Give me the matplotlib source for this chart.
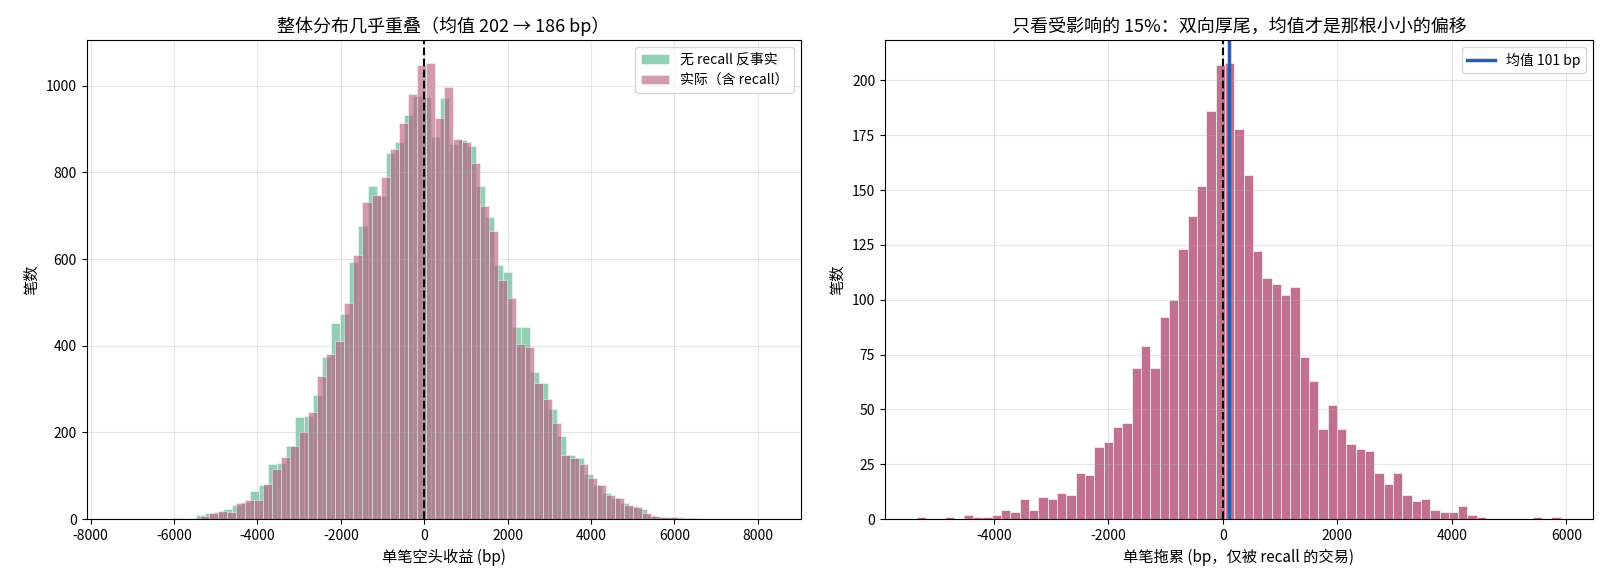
import numpy as np
import matplotlib
matplotlib.use("Agg")
import matplotlib.pyplot as plt

plt.rcParams['font.family'] = ['Noto Sans CJK SC', 'DejaVu Sans']
plt.rcParams['axes.unicode_minus'] = False

# ---- left panel data ----
left_m_start, left_g_start, left_width, left_nbins = -7317, -7413, 216.2, 72
actual_counts = [1, 0, 0, 0, 0, 0, 2, 0, 1, 8, 13, 19, 16, 38, 45, 45, 82, 115, 144, 169,
                 200, 248, 330, 382, 411, 499, 609, 732, 748, 790, 854, 915, 982, 1048, 1053, 926,
                 998, 878, 871, 822, 723, 665, 552, 511, 405, 398, 313, 276, 222, 148, 142, 128,
                 94, 78, 55, 49, 32, 28, 13, 8, 4, 5, 2, 2, 1, 1, 0, 1, 0, 0, 0, 1]
counterfactual_counts = [1, 0, 0, 0, 0, 1, 1, 0, 2, 10, 13, 16, 23, 32, 40, 65, 78, 126, 130, 169,
                         235, 238, 287, 375, 452, 473, 594, 677, 769, 745, 845, 870, 932, 976, 975, 882,
                         972, 865, 875, 862, 769, 698, 586, 571, 444, 444, 340, 313, 253, 192, 148, 142,
                         105, 78, 61, 49, 36, 30, 22, 9, 5, 4, 4, 3, 2, 1, 1, 0, 1, 0, 0, 1]

# ---- right panel data ----
right_start, right_width, right_nbins = -5344, 163, 69
drag_counts = [1, 0, 0, 1, 0, 2, 1, 1, 2, 4, 3, 9, 4, 10, 9, 12, 11, 21, 20, 33, 35, 42, 44, 69,
               79, 69, 92, 100, 123, 138, 152, 186, 207, 208, 178, 157, 122, 110, 107, 102, 106,
               74, 63, 41, 52, 41, 34, 32, 31, 21, 16, 21, 11, 8, 9, 4, 3, 3, 6, 2, 1, 0, 0, 0,
               0, 0, 1, 0, 1]
mean_drag = 101

m_edges = np.linspace(left_m_start, left_m_start + left_nbins * left_width, left_nbins + 1)
g_edges = np.linspace(left_g_start, left_g_start + left_nbins * left_width, left_nbins + 1)
r_edges = np.linspace(right_start, right_start + right_nbins * right_width, right_nbins + 1)

green = '#4baf85'
pink = '#b7587b'

fig = plt.figure(figsize=(16.11, 5.87), dpi=100)
ax1 = fig.add_axes([0.0538, 0.1158, 0.4432, 0.816])
ax2 = fig.add_axes([0.5493, 0.1158, 0.4395, 0.816])

ax1.hist((g_edges[:-1] + g_edges[1:]) / 2, bins=g_edges, weights=counterfactual_counts,
         color=green, alpha=0.6, edgecolor='white', linewidth=0.5, label='无 recall 反事实')
ax1.hist((m_edges[:-1] + m_edges[1:]) / 2, bins=m_edges, weights=actual_counts,
         color=pink, alpha=0.6, edgecolor='white', linewidth=0.5, label='实际（含 recall）')
ax1.axvline(0, color='black', linestyle='--', linewidth=1.5)
ax1.set_xlim(-8095, 9030)
ax1.set_title('整体分布几乎重叠（均值 202 → 186 bp）', fontsize=13)
ax1.set_xlabel('单笔空头收益 (bp)', fontsize=11)
ax1.set_ylabel('笔数', fontsize=11)
ax1.grid(True, alpha=0.3)
ax1.legend(loc='upper right', fontsize=10)

ax2.hist((r_edges[:-1] + r_edges[1:]) / 2, bins=r_edges, weights=drag_counts,
         color=pink, alpha=0.85, edgecolor='white', linewidth=0.5)
ax2.axvline(0, color='black', linestyle='--', linewidth=1.5)
ax2.axvline(mean_drag, color='#2a5db0', linewidth=2.5, label=f'均值 {mean_drag} bp')
ax2.set_title('只看受影响的 15%：双向厚尾，均值才是那根小小的偏移', fontsize=13)
ax2.set_xlabel('单笔拖累 (bp，仅被 recall 的交易)', fontsize=11)
ax2.set_ylabel('笔数', fontsize=11)
ax2.grid(True, alpha=0.3)
ax2.legend(loc='upper right', fontsize=10)

fig.savefig('out.png', dpi=100)
